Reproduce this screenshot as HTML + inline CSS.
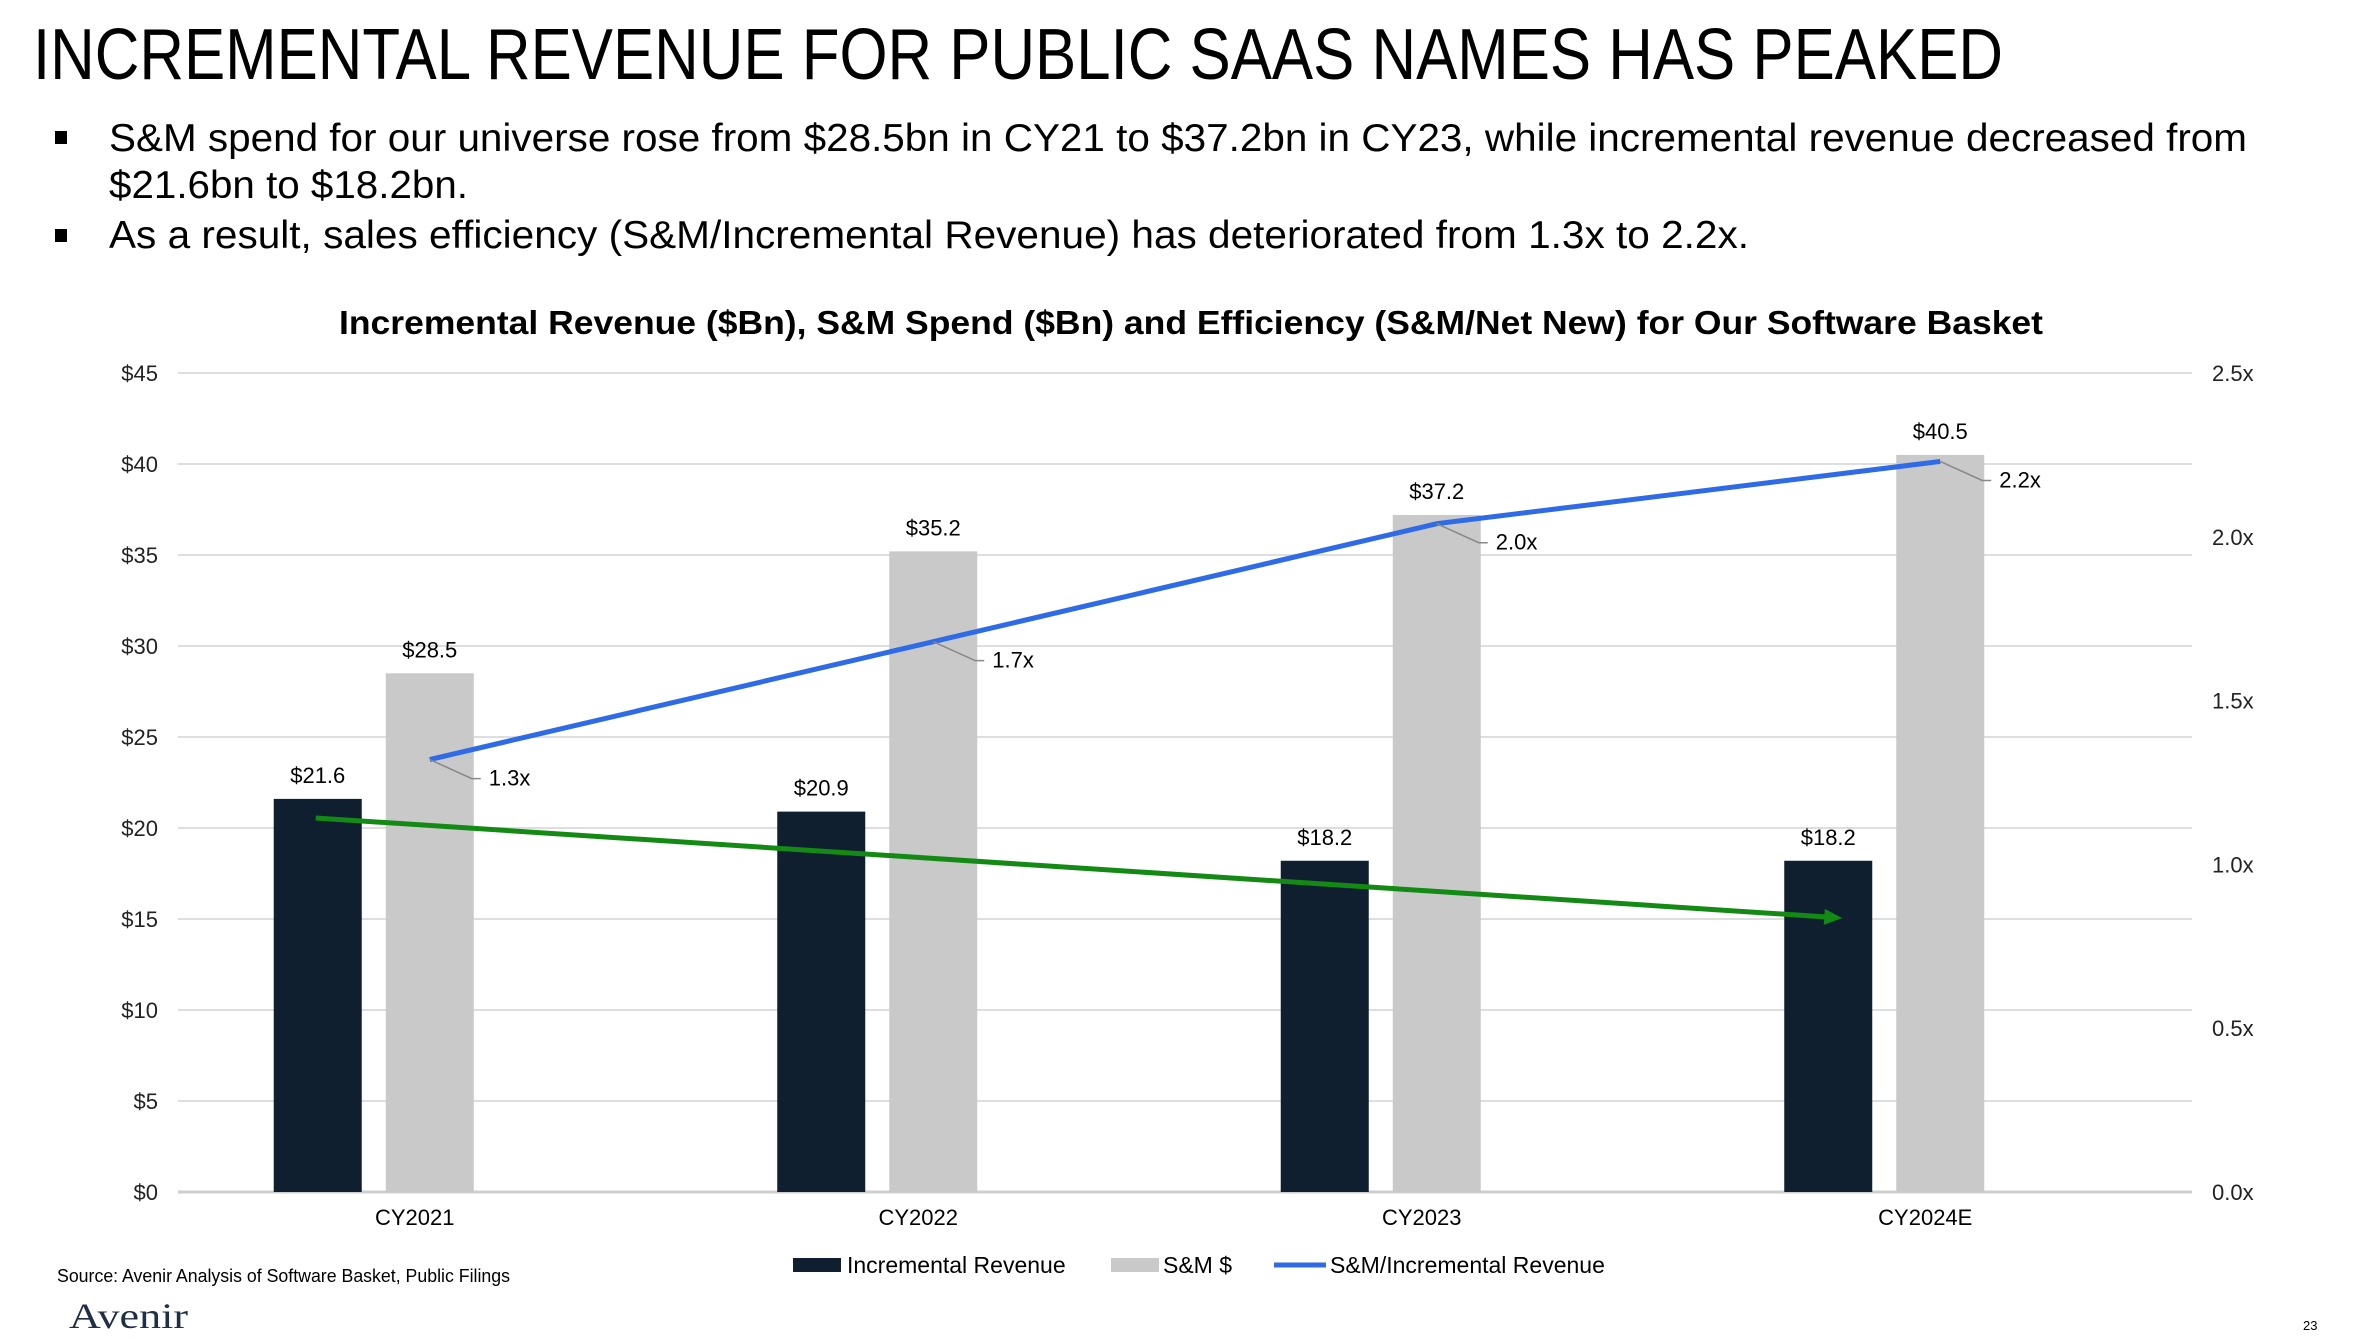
<!DOCTYPE html>
<html><head><meta charset="utf-8"><style>
html,body{margin:0;padding:0;background:#fff;}
svg{display:block;font-family:"Liberation Sans",Arial,sans-serif;}
</style></head><body>
<svg id="chart" width="2371" height="1341" viewBox="0 0 2371 1341">
<text x="33" y="79" font-size="72" textLength="1970" lengthAdjust="spacingAndGlyphs" fill="#000">INCREMENTAL REVENUE FOR PUBLIC SAAS NAMES HAS PEAKED</text>
<rect x="55" y="131" width="12" height="13" fill="#000"/>
<text x="109" y="151" font-size="39" textLength="2138" lengthAdjust="spacingAndGlyphs">S&amp;M spend for our universe rose from $28.5bn in CY21 to $37.2bn in CY23, while incremental revenue decreased from</text>
<text x="109" y="198" font-size="39" textLength="359" lengthAdjust="spacingAndGlyphs">$21.6bn to $18.2bn.</text>
<rect x="55" y="229" width="12" height="13" fill="#000"/>
<text x="109" y="248" font-size="39" textLength="1640" lengthAdjust="spacingAndGlyphs">As a result, sales efficiency (S&amp;M/Incremental Revenue) has deteriorated from 1.3x to 2.2x.</text>
<text x="339" y="334" font-size="33" font-weight="bold" textLength="1704" lengthAdjust="spacingAndGlyphs">Incremental Revenue ($Bn), S&amp;M Spend ($Bn) and Efficiency (S&amp;M/Net New) for Our Software Basket</text>
<g id="grid"></g><g id="bars"></g><g id="lines"></g><g id="labels"></g>
<g>
<rect x="793" y="1258" width="48" height="14" fill="#0f1f30"/>
<text x="847" y="1273" font-size="23">Incremental Revenue</text>
<rect x="1111" y="1258" width="48" height="14" fill="#c9c9c9"/>
<text x="1163" y="1273" font-size="23">S&amp;M $</text>
<line x1="1274" y1="1265" x2="1326" y2="1265" stroke="#2f6be6" stroke-width="5"/>
<text x="1330" y="1273" font-size="23">S&amp;M/Incremental Revenue</text>
</g>
<text x="57" y="1282" font-size="18" textLength="453" lengthAdjust="spacingAndGlyphs">Source: Avenir Analysis of Software Basket, Public Filings</text>
<text x="69" y="1328" font-size="36" textLength="119" lengthAdjust="spacingAndGlyphs" font-family="'Liberation Serif',serif" fill="#1f2f45">Avenir</text>
<text x="2303" y="1330" font-size="13">23</text>
</svg>
<script>
const categories = ["CY2021","CY2022","CY2023","CY2024E"];
const incrementalRevenue = [21.6,20.9,18.2,18.2];
const smSpend = [28.5,35.2,37.2,40.5];
const efficiency = [1.32,1.68,2.04,2.23];
const efficiencyLabels = ["1.3x","1.7x","2.0x","2.2x"];
const leftTicks = [0,5,10,15,20,25,30,35,40,45];
const rightTicks = [0,0.5,1.0,1.5,2.0,2.5];
const trendStart = 20.55;
const trendEnd = 15.05;

const NS="http://www.w3.org/2000/svg";
const X0=178,X1=2192,Y0=1192,Y1=373;
const band=(X1-X0)/categories.length;
const yL=v=>Y0-(v/45)*(Y0-Y1);
const yR=v=>Y0-(v/2.5)*(Y0-Y1);
const cx=i=>X0+band*(i+0.5);
const BW=88, DOFF=112;
function mk(tag,attrs,parent,txt){const e=document.createElementNS(NS,tag);for(const k in attrs)e.setAttribute(k,attrs[k]);if(txt!=null)e.textContent=txt;document.getElementById(parent).appendChild(e);return e;}
leftTicks.forEach(t=>{
  const g=mk('line',{x1:X0,x2:X1,y1:yL(t),y2:yL(t),stroke:t===0?'#cfcfcf':'#dedede','stroke-width':t===0?3:2},'grid');
  
  
  const l=mk('text',{x:158,y:yL(t)+8,'font-size':22,'text-anchor':'end',fill:'#222'},'grid','$'+t);
  
  
});
rightTicks.forEach(t=>{
  const l=mk('text',{x:2212,y:yR(t)+8,'font-size':22,fill:'#222'},'grid',t.toFixed(1)+'x');
  
  
});
categories.forEach((c,i)=>{
  const dx=cx(i)-DOFF;
  const b1=mk('rect',{x:dx-BW/2,y:yL(incrementalRevenue[i]),width:BW,height:Y0-yL(incrementalRevenue[i]),fill:'#0f1f30'},'bars');
  
  
  const b2=mk('rect',{x:cx(i)-BW/2,y:yL(smSpend[i]),width:BW,height:Y0-yL(smSpend[i]),fill:'#c9c9c9'},'bars');
  
  
  const t1=mk('text',{x:dx,y:yL(incrementalRevenue[i])-16,'font-size':22,'text-anchor':'middle'},'labels','$'+incrementalRevenue[i].toFixed(1));
  
  
  const t2=mk('text',{x:cx(i),y:yL(smSpend[i])-16,'font-size':22,'text-anchor':'middle'},'labels','$'+smSpend[i].toFixed(1));
  
  
  const cl=mk('text',{x:cx(i)-15,y:1225,'font-size':22,'text-anchor':'middle'},'labels',c);
  
  
  const px=cx(i),py=yR(efficiency[i]);
  const ld=mk('polyline',{points:`${px},${py} ${px+42},${py+19} ${px+51},${py+19}`,fill:'none',stroke:'#888','stroke-width':1.5},'labels');
  
  
  const el=mk('text',{x:px+59,y:py+26,'font-size':22},'labels',efficiencyLabels[i]);
  
  
});
const pts=efficiency.map((v,i)=>cx(i)+','+yR(v)).join(' ');
const ln=mk('polyline',{points:pts,fill:'none',stroke:'#2f6be6','stroke-width':5},'lines');


const gx1=cx(0)-DOFF-2, gx2=cx(categories.length-1)-DOFF+14, gy1=yL(trendStart), gy2=yL(trendEnd);
const tr=mk('line',{x1:gx1,y1:gy1,x2:gx2-14,y2:gy2-1,stroke:'#138a13','stroke-width':5},'lines');


const ang=Math.atan2(gy2-gy1,gx2-gx1);
const ax=gx2,ay=gy2,s=18;
const hp=`${ax},${ay} ${ax-s*Math.cos(ang)+8*Math.sin(ang)},${ay-s*Math.sin(ang)-8*Math.cos(ang)} ${ax-s*Math.cos(ang)-8*Math.sin(ang)},${ay-s*Math.sin(ang)+8*Math.cos(ang)}`;
const ah=mk('polygon',{points:hp,fill:'#138a13'},'lines');


</script>
</body></html>
